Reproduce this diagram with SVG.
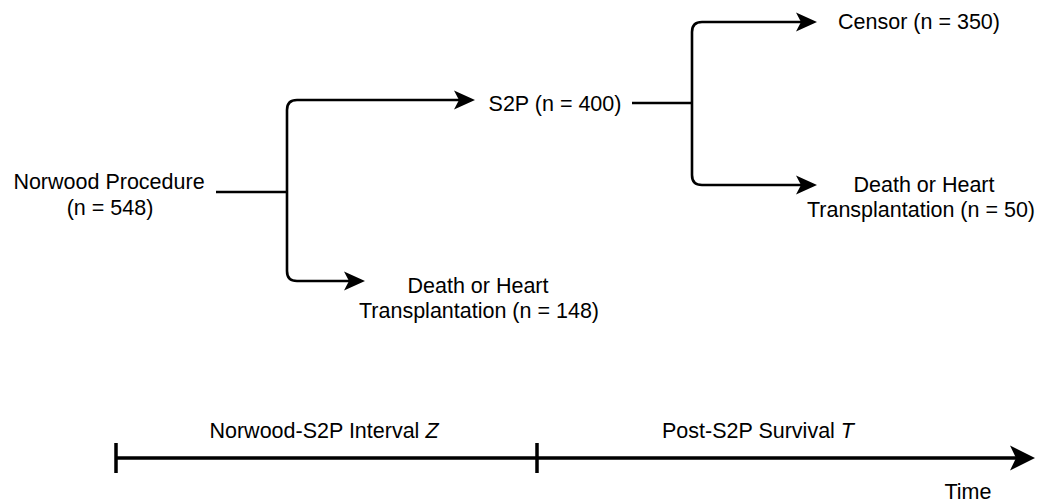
<svg xmlns="http://www.w3.org/2000/svg" width="1045" height="502" viewBox="0 0 1045 502">
<style>
text{font-family:"Liberation Sans",Arial,sans-serif;font-size:21.5px;fill:#000;text-anchor:middle}
.c{fill:none;stroke:#000;stroke-width:2.6;stroke-linejoin:round}
.t{fill:none;stroke:#000;stroke-width:3.5}
</style>
<defs>
<marker id="ah" viewBox="-22 -11 23 22" refX="-4" refY="0" markerUnits="userSpaceOnUse" markerWidth="23" markerHeight="22" orient="auto">
<path d="M-21,-9.5 L0,0 L-21,9.5 L-16,0 z" fill="#000"/>
</marker>
<marker id="ahb" viewBox="-26 -13 27 26" refX="-5" refY="0" markerUnits="userSpaceOnUse" markerWidth="27" markerHeight="26" orient="auto">
<path d="M-25,-12.5 L0,0 L-25,12.5 L-19,0 z" fill="#000"/>
</marker>
</defs>
<g id="connectors">
<path class="c" d="M216 192 H287"/>
<path class="c" d="M287 192 V110 Q287 100 297 100 H471" marker-end="url(#ah)"/>
<path class="c" d="M287 192 V271 Q287 281 297 281 H361" marker-end="url(#ah)"/>
<path class="c" d="M632 103 H692"/>
<path class="c" d="M692 103 V32 Q692 22 702 22 H813" marker-end="url(#ah)"/>
<path class="c" d="M692 103 V175 Q692 185 702 185 H813" marker-end="url(#ah)"/>
</g>
<g id="norwood"><text x="109" y="189">Norwood Procedure</text><text x="110" y="215">(n = 548)</text></g>
<g id="s2p"><text x="555" y="111">S2P (n = 400)</text></g>
<g id="death148"><text x="478" y="293">Death or Heart</text><text x="479" y="318">Transplantation (n = 148)</text></g>
<g id="censor"><text x="919" y="29">Censor (n = 350)</text></g>
<g id="death50"><text x="924" y="192">Death or Heart</text><text x="921" y="217">Transplantation (n = 50)</text></g>
<g id="timeline">
<path class="t" d="M116 458 H1030" marker-end="url(#ahb)"/>
<path class="t" d="M116 443 V473 M537 443 V473"/>
<text x="324" y="438">Norwood-S2P Interval <tspan font-style="italic">Z</tspan></text>
<text x="758" y="438">Post-S2P Survival <tspan font-style="italic">T</tspan></text>
<text x="968" y="499">Time</text>
</g>
</svg>
